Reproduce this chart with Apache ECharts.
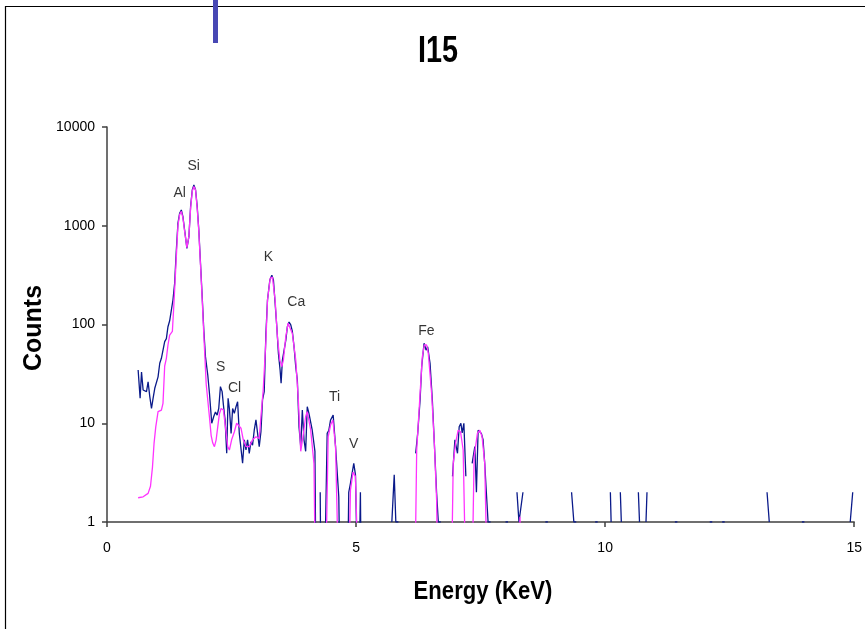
<!DOCTYPE html>
<html>
<head>
<meta charset="utf-8">
<script src="https://cdn.jsdelivr.net/npm/echarts@6/dist/echarts.min.js"></script>
<style>
html,body{margin:0;padding:0;background:#fff;}
#chart{width:865px;height:629px;}
</style>
</head>
<body>
<div id="chart"></div>
<script>
// ---- Data (Energy in KeV, Counts) ----
var blueEnergy = [
 0.625,0.665,0.693,0.725,0.759,0.793,0.825,0.859,0.893,0.925,
 0.959,0.993,1.025,1.059,1.092,1.124,1.158,1.192,1.224,1.258,
 1.292,1.324,1.358,1.392,1.424,1.458,1.492,1.524,1.558,1.604,
 1.644,1.678,1.712,1.744,1.778,1.811,1.843,1.877,1.911,1.943,
 1.977,2.023,2.057,2.103,2.143,2.177,2.211,2.243,2.277,2.311,
 2.337,2.371,2.403,2.431,2.457,2.491,2.522,2.556,2.590,2.622,
 2.656,2.690,2.722,2.756,2.790,2.822,2.856,2.890,2.922,2.956,
 2.990,3.022,3.056,3.090,3.122,3.156,3.190,3.222,3.269,3.309,
 3.341,3.375,3.409,3.441,3.475,3.495,3.521,3.555,3.589,3.621,
 3.655,3.689,3.721,3.755,3.789,3.821,3.855,3.889,3.921,3.955,
 3.988,4.020,4.054,4.120,4.174,4.200,4.260,4.280,4.300,4.354,
 4.420,4.454,4.488,4.540,4.588,4.653,4.690,4.819,4.853,4.887,
 4.920,4.954,4.988,5.020,5.045,5.087,5.110,5.700,5.718,5.766,
 5.798,5.850,5.900,6.197,6.237,6.285,6.317,6.365,6.405,6.437,
 6.485,6.531,6.571,6.617,6.651,6.700,6.750,6.936,6.984,7.036,
 7.070,7.104,7.130,7.164,7.204,7.250,7.330,7.384,7.416,7.450,
 7.484,7.515,7.549,7.583,7.615,7.650,7.700,7.750,8.000,8.050,
 8.100,8.230,8.270,8.310,8.350,8.400,8.800,8.850,8.900,9.326,
 9.372,9.420,9.500,9.800,9.850,9.900,10.105,10.120,10.200,10.305,
 10.325,10.400,10.667,10.690,10.750,10.820,10.840,10.900,11.400,11.450,
 11.500,12.100,12.150,12.200,12.350,12.400,12.500,13.250,13.295,13.400,
 13.950,14.000,14.100,14.920,14.970
];
var blueCounts = [
 34.6,17.9,33,21.7,22.6,20.9,26.3,18.6,14.1,17.9,
 22.6,21.7,29.5,40.5,45.5,45.5,67,72,95,109,
 109,177,261,568,1059,1336,1443,1236,906,590,
 775,1560,2300,2590,2300,1560,906,417,191,88,
 47,30.8,20,10,11.7,13,12.1,14.1,23.5,20.9,
 15.3,10.8,4.96,17.9,14.1,7.9,14.1,12.6,14.7,16.5,
 7.9,7.9,3.93,6.8,5.36,6.8,4.96,6.5,6.0,8.5,
 10.8,10.8,5.8,8.2,17.2,20.9,81,177,282,316,
 282,164,95,51,34.6,25.4,43.6,42,69,95,
 106,99,85,59.5,37.4,27.4,9.2,5.8,13.6,6.8,
 5.2,14.7,12.6,8.5,5.2,0.1,null,2,0.1,0.1,
 7.9,8.5,10.8,12.1,5.8,1.8,0.1,0.1,2,2.46,
 3.1,3.93,3.0,2.9,0.1,2,0.1,null,1,3,
 1,1,null,4.96,7.9,17.2,37.4,64.5,55,59.5,
 40.5,17.2,6.3,1.95,1,1,null,2.9,6.8,4.96,
 9.2,10,8.0,10,2.9,null,3.93,5.8,2,8.5,
 8.9,7.9,6.8,3.9,2,1,1,null,1,1,
 null,2,1,1,2,null,1,1,null,2,
 1,1,null,1,1,null,2,1,null,2,
 1,null,2,1,null,1,2,null,1,1,
 null,1,1,null,1,1,null,2,1,null,
 1,1,null,1,2
];

var magentaEnergy = [
 0.625,0.725,0.825,0.873,0.913,0.945,0.979,1.025,1.092,1.124,
 1.158,1.192,1.224,1.258,1.312,1.344,1.378,1.424,1.458,1.492,
 1.524,1.558,1.604,1.644,1.678,1.712,1.744,1.778,1.811,1.843,
 1.877,1.911,1.943,1.991,2.057,2.091,2.123,2.157,2.191,2.223,
 2.257,2.291,2.337,2.377,2.423,2.457,2.502,2.557,2.602,2.642,
 2.690,2.736,2.790,2.856,2.922,2.990,3.056,3.090,3.136,3.190,
 3.222,3.276,3.321,3.375,3.421,3.469,3.509,3.541,3.589,3.635,
 3.675,3.721,3.789,3.841,3.889,3.934,3.988,4.020,4.089,4.155,
 4.194,4.374,4.440,4.488,4.534,4.588,4.668,4.839,4.887,4.939,
 4.987,5.019,5.067,6.171,6.217,6.285,6.330,6.370,6.417,6.450,
 6.517,6.571,6.617,6.651,6.904,6.950,6.997,7.050,7.097,7.150,
 7.217,7.316,7.370,7.436,7.484,7.530,7.583,7.650,8.250,8.290,
 8.330
];
var magentaCounts = [
 1.76,1.8,1.95,2.3,3.6,6.3,9.2,13.1,13.6,15.9,
 38,45.5,62,78,85,164,356,1000,1300,1400,
 1200,880,600,780,1500,2250,2500,2300,1500,880,
 400,180,80,25,11.5,7.5,6.3,5.8,6.8,9.2,
 12.5,14.1,13.6,9.2,5.8,5.36,6.8,8.2,10,10.4,
 8.9,6.8,5.8,5.8,6.8,7.3,7.0,11.7,21.7,69,
 177,294,302,177,75,43.6,37.4,43.6,75,103,
 103,81,43.6,17.2,5.2,7.3,11.7,13.1,8.5,3.9,
 0.1,0.1,7.3,9.6,10.8,5.8,0.1,0.1,2.1,3.2,
 2.9,2.8,0.1,0.1,5.36,20,47,62,62,51,
 20,6.3,1.67,0.1,0.1,3.9,6.3,8.5,8.2,5.36,
 0.1,0.1,4.6,7.9,8.5,7.3,3.9,0.1,0.1,1.13,
 0.1
];

// Peak labels (element names placed at energy / count positions)
var peakNames = ['Al','Si','S','Cl','K','Ca','Ti','V','Fe'];
var peakEnergy = [1.46,1.74,2.28,2.56,3.24,3.80,4.57,4.95,6.41];
var peakCounts = [2150,4030,37,22.7,483,169,18.4,6.2,86];

var xTicks = [0, 5, 10, 15];
var yTicks = [1, 10, 100, 1000, 10000];

function pairs(xs, ys){
  var out = [];
  for (var i = 0; i < xs.length; i++) out.push([xs[i], ys[i] == null ? '-' : ys[i]]);
  return out;
}

var chart = echarts.init(document.getElementById('chart'));
var font = '"Liberation Sans", Arial, sans-serif';
chart.setOption({
  animation: false,
  backgroundColor: '#fff',
  grid: {left: 107, right: 7, top: 127, bottom: 107, containLabel: false},
  xAxis: {
    type: 'value', min: xTicks[0], max: xTicks[xTicks.length-1], interval: 5,
    axisLine: {show: true, onZero: false, lineStyle: {color: '#404040', width: 1.5}},
    axisTick: {show: true, length: 5, lineStyle: {color: '#404040', width: 1.5}},
    axisLabel: {color: '#000', fontSize: 14, fontFamily: font, margin: 19,
      formatter: function(v){ return String(v); }},
    splitLine: {show: false}
  },
  yAxis: {
    type: 'log', logBase: 10, min: yTicks[0], max: yTicks[yTicks.length-1],
    axisLine: {show: true, lineStyle: {color: '#404040', width: 1.5}},
    axisTick: {show: true, length: 5, lineStyle: {color: '#404040', width: 1.5}},
    axisLabel: {color: '#000', fontSize: 14, fontFamily: font, margin: 12,
      formatter: function(v){ return String(Math.round(v)); }},
    splitLine: {show: false},
    minorTick: {show: false}
  },
  series: [
    {
      type: 'line', data: pairs(blueEnergy, blueCounts), showSymbol: false, symbol: 'none',
      connectNulls: false, clip: true,
      lineStyle: {color: '#0a1a8a', width: 1.3}, z: 2
    },
    {
      type: 'line', data: pairs(magentaEnergy, magentaCounts), showSymbol: false, symbol: 'none',
      connectNulls: false, clip: true,
      lineStyle: {color: '#ff33ff', width: 1.3}, z: 3
    },
    {
      type: 'scatter', data: pairs(peakEnergy, peakCounts), symbolSize: 1,
      itemStyle: {color: 'rgba(0,0,0,0)'}, z: 4, silent: true,
      label: {
        show: true, position: 'inside', color: '#000', fontSize: 14, fontFamily: font,
        formatter: function(p){ return peakNames[p.dataIndex]; }
      }
    }
  ],
  graphic: [
    {type: 'rect', shape: {x: 5.5, y: 6.5, width: 900, height: 700},
     style: {fill: 'none', stroke: '#000', lineWidth: 1.2}, z: 0},
    {type: 'rect', shape: {x: 213, y: 0, width: 5, height: 43},
     style: {fill: '#4848b4'}, z: 10},
    {type: 'text', x: 438, y: 52, scaleX: 0.8,
     style: {text: 'I15', font: 'bold 36px ' + font, fill: '#000', textAlign: 'center', textVerticalAlign: 'middle'}},
    {type: 'text', x: 483, y: 592, scaleX: 0.85,
     style: {text: 'Energy (KeV)', font: 'bold 26px ' + font, fill: '#000', textAlign: 'center', textVerticalAlign: 'middle'}},
    {type: 'text', x: 34, y: 328, rotation: Math.PI / 2,
     style: {text: 'Counts', font: 'bold 25px ' + font, fill: '#000', textAlign: 'center', textVerticalAlign: 'middle'}}
  ]
});
</script>
</body>
</html>
